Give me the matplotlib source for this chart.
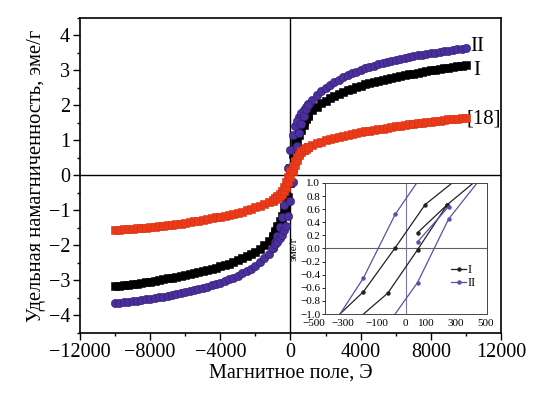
import matplotlib
matplotlib.use("Agg")
import matplotlib.pyplot as plt
from matplotlib.ticker import MultipleLocator, NullLocator
import matplotlib.transforms as mtransforms

plt.rcParams['font.family'] = ['Liberation Serif', 'DejaVu Serif']
plt.rcParams['axes.unicode_minus'] = True

# ---------------- main data (descending sweep, step 250 Oe) ----------------
H = [-10000, -9750, -9500, -9250, -9000, -8750, -8500, -8250, -8000, -7750,
     -7500, -7250, -7000, -6750, -6500, -6250, -6000, -5750, -5500, -5250,
     -5000, -4750, -4500, -4250, -4000, -3750, -3500, -3250, -3000, -2750,
     -2500, -2250, -2000, -1750, -1500, -1250, -1000, -750, -500, -250,
     0, 250, 500, 750, 1000, 1250, 1500, 1750, 2000, 2250,
     2500, 2750, 3000, 3250, 3500, 3750, 4000, 4250, 4500, 4750,
     5000, 5250, 5500, 5750, 6000, 6250, 6500, 6750, 7000, 7250,
     7500, 7750, 8000, 8250, 8500, 8750, 9000, 9250, 9500, 9750, 10000]

M_I = [-3.17, -3.16, -3.14, -3.12, -3.11, -3.09, -3.07, -3.05, -3.03, -3.01,
       -2.98, -2.96, -2.94, -2.92, -2.89, -2.87, -2.84, -2.82, -2.79, -2.76,
       -2.73, -2.70, -2.67, -2.64, -2.60, -2.56, -2.52, -2.47, -2.42, -2.37,
       -2.31, -2.25, -2.18, -2.09, -1.99, -1.88, -1.72, -1.45, -1.15, -0.62,
       0.22, 0.95, 1.30, 1.55, 1.72, 1.86, 1.97, 2.06, 2.14, 2.21,
       2.27, 2.33, 2.38, 2.43, 2.48, 2.52, 2.56, 2.60, 2.63, 2.66,
       2.69, 2.72, 2.75, 2.78, 2.81, 2.84, 2.86, 2.89, 2.91, 2.93,
       2.96, 2.98, 3.00, 3.02, 3.04, 3.06, 3.08, 3.10, 3.12, 3.13, 3.15]

M_II = [-3.65, -3.63, -3.62, -3.61, -3.59, -3.58, -3.56, -3.54, -3.52, -3.50,
        -3.48, -3.46, -3.44, -3.42, -3.39, -3.37, -3.34, -3.31, -3.28, -3.25,
        -3.21, -3.18, -3.14, -3.10, -3.06, -3.02, -2.97, -2.92, -2.86, -2.80,
        -2.73, -2.66, -2.58, -2.48, -2.37, -2.24, -2.06, -1.72, -1.20, -0.42,
        0.72, 1.40, 1.68, 1.88, 2.03, 2.17, 2.30, 2.41, 2.51, 2.59,
        2.67, 2.74, 2.81, 2.87, 2.92, 2.97, 3.02, 3.06, 3.10, 3.14,
        3.18, 3.21, 3.24, 3.27, 3.30, 3.33, 3.36, 3.38, 3.41, 3.43,
        3.45, 3.47, 3.49, 3.51, 3.53, 3.55, 3.57, 3.59, 3.61, 3.62, 3.64]

M_18 = [-1.56, -1.55, -1.54, -1.53, -1.52, -1.51, -1.50, -1.49, -1.48, -1.46,
        -1.45, -1.44, -1.42, -1.41, -1.39, -1.38, -1.36, -1.34, -1.31, -1.29,
        -1.27, -1.25, -1.22, -1.20, -1.18, -1.15, -1.12, -1.09, -1.06, -1.03,
        -0.99, -0.95, -0.91, -0.86, -0.81, -0.76, -0.70, -0.60, -0.45, -0.20,
        0.12, 0.40, 0.62, 0.74, 0.82, 0.88, 0.93, 0.97, 1.01, 1.04,
        1.07, 1.10, 1.13, 1.16, 1.19, 1.21, 1.24, 1.26, 1.28, 1.30,
        1.32, 1.34, 1.36, 1.38, 1.41, 1.42, 1.44, 1.46, 1.48, 1.49,
        1.51, 1.53, 1.54, 1.56, 1.57, 1.59, 1.60, 1.61, 1.62, 1.63, 1.64]

# extra descending points near zero
H_fine = [-875, -625, -375, -125, 125, 375, 625, 875]
I_desc_fine = [-1.60, -1.30, -0.90, -0.20, 0.62, 1.13, 1.43, 1.64]
II_desc_fine = [-1.90, -1.48, -0.85, 0.20, 1.15, 1.55, 1.79, 1.96]
R_desc_fine = [-0.65, -0.53, -0.34, -0.04, 0.27, 0.52, 0.69, 0.78]

# ascending sweep near zero
H_asc = [-1000, -875, -750, -625, -500, -375, -250, -125, 0,
         125, 250, 375, 500, 625, 750, 875, 1000]
I_asc = [-1.75, -1.64, -1.55, -1.43, -1.30, -1.13, -0.95, -0.62, -0.22,
         0.20, 0.62, 0.90, 1.15, 1.30, 1.45, 1.60, 1.70]
II_asc = [-2.08, -1.96, -1.90, -1.79, -1.70, -1.55, -1.45, -1.15, -0.72,
          -0.20, 0.42, 0.85, 1.20, 1.48, 1.70, 1.90, 2.01]
R_asc = [-0.72, -0.68, -0.64, -0.58, -0.52, -0.43, -0.32, -0.19, -0.05,
         0.13, 0.30, 0.45, 0.58, 0.66, 0.72, 0.77, 0.81]

# ---------------- inset data ----------------
ins_I_desc_H = [300, 118, -67, -263, -455]
ins_I_desc_M = [1.03, 0.67, 0.01, -0.66, -1.11]
ins_I_asc_H = [-300, -112, 71, 255, 440]
ins_I_asc_M = [-1.08, -0.68, -0.02, 0.67, 1.05]
ins_I_init_H = [71, 255]
ins_I_init_M = [0.24, 0.67]

ins_II_desc_H = [130, -67, -263, -455]
ins_II_desc_M = [1.23, 0.52, -0.45, -1.18]
ins_II_asc_H = [-125, 71, 263, 455]
ins_II_asc_M = [-1.20, -0.52, 0.45, 1.05]
ins_II_init_H = [71, 263]
ins_II_init_M = [0.10, 0.64]

ins_xlabel_pos = [-568, -392, -179, -6, 123, 308, 494]
ins_xlabels = ['\u2212500', '\u2212300', '\u2212100', '0', '100', '300', '500']

BLACK = '#000000'
PURPLE = '#4b2f9c'
RED = '#ea3a1a'

fig = plt.figure(figsize=(5.33, 3.93), dpi=100)
ax = fig.add_axes([0.150, 0.1527, 0.790, 0.8015])

ax.axhline(0, color='black', lw=1.0, zorder=1)
ax.axvline(0, color='black', lw=1.0, zorder=1)

sq = dict(marker='s', ls='none', ms=5.6, mew=0.4)
ci = dict(marker='o', ls='none', ms=6.0, mew=0.4)
ax.plot(H, M_I, color=BLACK, zorder=2, **sq)
ax.plot(H_fine, I_desc_fine, color=BLACK, zorder=2, **sq)
ax.plot(H_asc, I_asc, color=BLACK, zorder=2, **sq)
ax.plot(H, M_II, color=PURPLE, mec='#2e1c6e', zorder=3, **ci)
ax.plot(H_fine, II_desc_fine, color=PURPLE, mec='#2e1c6e', zorder=3, **ci)
ax.plot(H_asc, II_asc, color=PURPLE, mec='#2e1c6e', zorder=3, **ci)
ax.plot(H, M_18, color=RED, mec='#d8300f', zorder=4, **sq)
ax.plot(H_fine, R_desc_fine, color=RED, mec='#d8300f', zorder=4, **sq)
ax.plot(H_asc, R_asc, color=RED, mec='#d8300f', zorder=4, **sq)

ax.text(10230, 3.68, 'II', fontsize=15, va='center', ha='left')
ax.text(10400, 3.01, 'I', fontsize=15, va='center', ha='left')
ax.text(10060, 1.60, '[18]', fontsize=15, va='center', ha='left')

ax.set_xlim(-12000, 12000)
ax.set_ylim(-4.5, 4.5)
ax.xaxis.set_major_locator(MultipleLocator(4000))
ax.xaxis.set_minor_locator(MultipleLocator(2000))
ax.yaxis.set_major_locator(MultipleLocator(1))
ax.yaxis.set_minor_locator(MultipleLocator(0.5))
ax.tick_params(which='major', direction='out', length=5, width=1.0, labelsize=14.5, pad=2)
ax.tick_params(which='minor', direction='out', length=2.5, width=1.0)
for s in ax.spines.values():
    s.set_linewidth(1.2)
ax.set_xlabel('Магнитное поле, Э', fontsize=14.5, labelpad=1)
ax.set_ylabel('Удельная намагниченность, эме/г', fontsize=14.8, labelpad=2)

# ---------------- inset ----------------
ia = fig.add_axes([0.6098, 0.2010, 0.3039, 0.3334])
ia.set_facecolor('white')
ia.axhline(0, color='#606060', lw=0.8, zorder=1)
ia.axvline(0, color='#7a78a8', lw=0.8, zorder=1)
kw = dict(lw=0.9, ms=2.2, marker='o')
ia.plot(ins_I_desc_H, ins_I_desc_M, color='#222222', label='I', **kw)
ia.plot(ins_I_asc_H, ins_I_asc_M, color='#222222', **kw)
ia.plot(ins_I_init_H, ins_I_init_M, color='#222222', **kw)
ia.plot(ins_II_desc_H, ins_II_desc_M, color='#5a4fa8', label='II', **kw)
ia.plot(ins_II_asc_H, ins_II_asc_M, color='#5a4fa8', **kw)
ia.plot(ins_II_init_H, ins_II_init_M, color='#5a4fa8', **kw)
ia.set_xlim(-500, 500)
ia.set_ylim(-1.0, 1.0)
ia.xaxis.set_major_locator(NullLocator())
trans = mtransforms.blended_transform_factory(ia.transData, ia.transAxes)
for pos, lab in zip(ins_xlabel_pos, ins_xlabels):
    ia.text(pos, -0.04, lab, transform=trans, ha='center', va='top', fontsize=8)
ia.yaxis.set_major_locator(MultipleLocator(0.2))
ia.yaxis.set_major_formatter(matplotlib.ticker.FuncFormatter(
    lambda v, p: ('%.1f' % v).replace('-', '\u2212')))
ia.tick_params(axis='y', direction='out', length=2.5, width=0.6, labelsize=8, pad=1)
for s in ia.spines.values():
    s.set_linewidth(0.7)
    s.set_color('#444444')
ia.set_ylabel('эме/г', fontsize=8, labelpad=1)
ia.legend(loc='lower left', bbox_to_anchor=(0.74, 0.14), frameon=False, fontsize=9,
          handlelength=1.2, handletextpad=0.1, labelspacing=0.1, borderpad=0)

fig.savefig('out.png', dpi=100)
